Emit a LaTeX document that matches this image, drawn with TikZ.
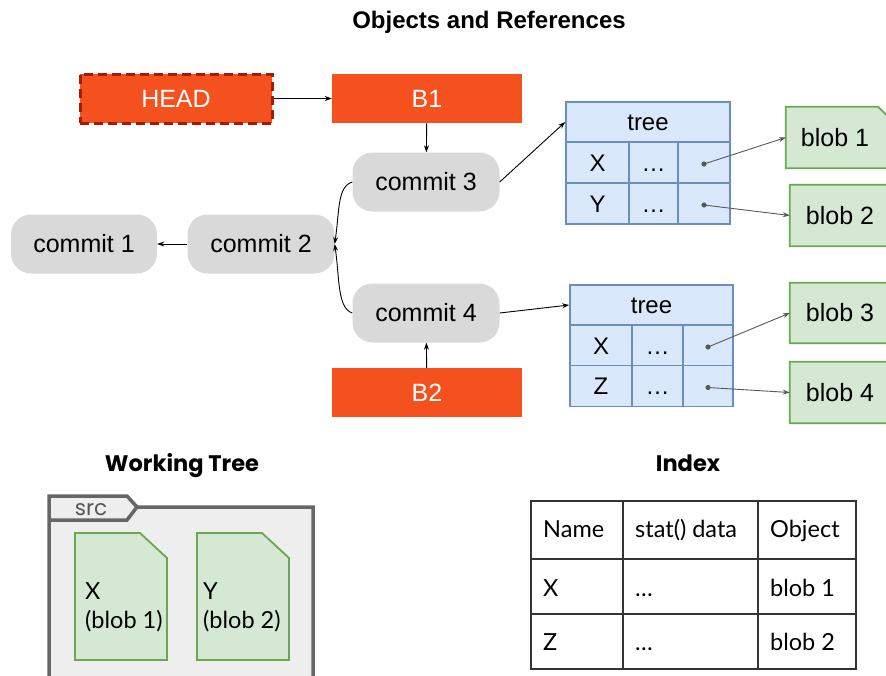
\documentclass[tikz,border=0pt]{standalone}
\usepackage{fontspec}
\setmainfont{Liberation Sans}
\newfontfamily\lowfont{Lato}
\newfontfamily\headfont{Poppins}
\usetikzlibrary{arrows.meta,backgrounds}
\definecolor{refred}{HTML}{F4511E}
\definecolor{headline}{HTML}{A61C00}
\definecolor{commitgray}{HTML}{D9D9D9}
\definecolor{treefill}{HTML}{DAE8FC}
\definecolor{treeline}{HTML}{6C8EBF}
\definecolor{blobfill}{HTML}{D5E8D4}
\definecolor{blobline}{HTML}{6AA84F}
\definecolor{linkgray}{HTML}{595959}
\definecolor{folderfill}{HTML}{EEEEEE}
\definecolor{folderline}{HTML}{666666}
\definecolor{srcgray}{HTML}{555555}
\definecolor{tabline}{HTML}{333333}
\begin{document}
\begin{tikzpicture}[x=1pt,y=-1pt,
  big/.style={font=\fontsize{25}{29}\selectfont},
  refbox/.style={big,fill=refred,text=white,minimum width=190pt,minimum height=49pt,inner sep=0pt},
  commitbox/.style={big,fill=commitgray,rounded corners=20pt,minimum width=147pt,minimum height=59pt,inner sep=0pt},
  cell/.style={draw=treeline,fill=treefill,line width=1.6pt,inner sep=0pt,font=\fontsize{24}{28}\selectfont,text height=17pt,text depth=0pt},
  blobbox/.style={big,minimum height=61pt,inner sep=0pt},
  blobst/.style={draw=blobline,fill=blobfill,line width=1.8pt},
  link/.style={-{Stealth[length=7pt,width=5pt]},line width=0.9pt},
  glink/.style={link,draw=linkgray},
  filest/.style={draw=blobline,fill=blobfill,line width=1.8pt},
  lowtext/.style={font=\lowfont\fontsize{23.5}{30}\selectfont,inner sep=0pt,anchor=base west},
  tabst/.style={draw=tabline,line width=1.3pt},
  heading/.style={font=\headfont\bfseries\fontsize{22.5}{26}\selectfont,inner sep=0pt,anchor=base}
]
\useasboundingbox (0,0) rectangle (886,675);

% title
\node[font=\bfseries\fontsize{24}{28}\selectfont] (title) at (489,22) {Objects and References};

% refs
\node[refbox,minimum width=192pt,draw=headline,line width=3pt,dash pattern=on 9pt off 5pt] (head) at (176,98.5) {HEAD};
\node[refbox] (b1) at (427,98.5) {B1};
\node[refbox] (b2) at (427,392.5) {B2};

% commits
\node[commitbox,minimum width=146pt] (c1) at (84,244) {commit 1};
\node[commitbox] (c2) at (261,244) {commit 2};
\node[commitbox] (c3) at (426,182) {commit 3};
\node[commitbox] (c4) at (426,313) {commit 4};

% tree 1
\node[cell,minimum width=164pt,minimum height=40pt] (t1) at (648,122) {tree};
\node[cell,minimum width=63pt,minimum height=41pt] (t1xa) at (597.5,162.5) {X};
\node[cell,minimum width=49pt,minimum height=41pt] (t1xb) at (653.5,162.5) {…};
\node[cell,minimum width=52pt,minimum height=41pt] (t1xc) at (704,162.5) {};
\node[cell,minimum width=63pt,minimum height=41pt] (t1ya) at (597.5,203.5) {Y};
\node[cell,minimum width=49pt,minimum height=41pt] (t1yb) at (653.5,203.5) {…};
\node[cell,minimum width=52pt,minimum height=41pt] (t1yc) at (704,203.5) {};

% tree 2
\node[cell,minimum width=163pt,minimum height=40pt] (t2) at (651.5,305) {tree};
\node[cell,minimum width=62pt,minimum height=41pt] (t2xa) at (601,345.5) {X};
\node[cell,minimum width=51pt,minimum height=41pt] (t2xb) at (657.5,345.5) {…};
\node[cell,minimum width=50pt,minimum height=41pt] (t2xc) at (708,345.5) {};
\node[cell,minimum width=62pt,minimum height=41pt] (t2za) at (601,386) {Z};
\node[cell,minimum width=51pt,minimum height=41pt] (t2zb) at (657.5,386) {…};
\node[cell,minimum width=50pt,minimum height=41pt] (t2zc) at (708,386) {};

% blobs
\node[blobbox,minimum width=98pt] (bl1) at (835,137.5) {blob 1};
\node[blobbox,minimum width=100pt] (bl2) at (840,215.5) {blob 2};
\node[blobbox,minimum width=100pt,minimum height=60pt] (bl3) at (840,313) {blob 3};
\node[blobbox,minimum width=100pt] (bl4) at (840,392.5) {blob 4};
\begin{scope}[on background layer]
  \draw[blobst] (bl1.south west) -- (bl1.north west) -- ([xshift=-6pt]bl1.north east)
     -- ([xshift=6pt,yshift=-12pt]bl1.north east) -- ([xshift=6pt]bl1.south east) -- cycle;
  \foreach \b in {bl2,bl3,bl4}{
    \draw[blobst] (\b.south west) -- (\b.north west) -- ([xshift=8pt]\b.north east)
       -- ([xshift=20pt,yshift=-12pt]\b.north east) -- ([xshift=20pt]\b.south east) -- cycle;
  }
\end{scope}

% connectors
\draw[link] (head) -- (b1);
\draw[link] (b1) -- (c3);
\draw[link] (b2) -- (c4);
\draw[link] (c2) -- (c1);
\draw[link] (c3.west) .. controls +(-15,5) and +(5,-35) .. (c2.east);
\draw[link] (c4.west) .. controls +(-15,-5) and +(5,35) .. (c2.east);
\draw[link] (c3.east) -- (t1.west);
\draw[link] (c4.east) -- (t2.west);

\foreach \c/\b in {t1xc/bl1,t1yc/bl2,t2xc/bl3,t2zc/bl4}{
  \fill[linkgray] ([yshift=-1.5pt]\c.center) circle (2.6pt);
  \draw[glink] ([yshift=-1.5pt]\c.center) -- (\b.west);
}

% working tree
\node[heading] (wt) at (182,471) {Working Tree};
\fill[folderfill] (49,700) -- (49,496) -- (127,496) -- (137,507) -- (313,507) -- (313,700) -- cycle;
\draw[draw=folderline,line width=3.5pt,line join=miter] (49,700) -- (49,496) -- (127,496) -- (137,507) -- (313,507) -- (313,700);
\draw[draw=folderline,line width=3.5pt] (49,520) -- (127,520) -- (137,507);
\node[font=\headfont\fontsize{21.5}{25}\selectfont,text=srcgray,inner sep=0pt,anchor=base] (src) at (91,515) {src};
\draw[filest] (75,533) -- (140,533) -- (167,558) -- (167,660) -- (75,660) -- cycle;
\draw[filest] (197,533) -- (262,533) -- (289,558) -- (289,660) -- (197,660) -- cycle;
\node[lowtext] (fx) at (85,599) {X};
\node[lowtext] (fxb) at (85,628) {(blob 1)};
\node[lowtext] (fy) at (203,599) {Y};
\node[lowtext] (fyb) at (203,628) {(blob 2)};

% index
\node[heading] (ix) at (688,471) {Index};
\draw[tabst] (531,501) rectangle (856,669);
\draw[tabst] (531,559) -- (856,559);
\draw[tabst] (531,614) -- (856,614);
\draw[tabst] (623,501) -- (623,669);
\draw[tabst] (758,501) -- (758,669);
\node[lowtext] (h1) at (543,537) {Name};
\node[lowtext] (h2) at (635,537) {stat() data};
\node[lowtext] (h3) at (770,537) {Object};
\node[lowtext] (r1a) at (543,596) {X};
\node[lowtext] (r1b) at (635,596) {…};
\node[lowtext] (r1c) at (770,596) {blob 1};
\node[lowtext] (r2a) at (543,650) {Z};
\node[lowtext] (r2b) at (635,650) {…};
\node[lowtext] (r2c) at (770,650) {blob 2};
\end{tikzpicture}
\end{document}
